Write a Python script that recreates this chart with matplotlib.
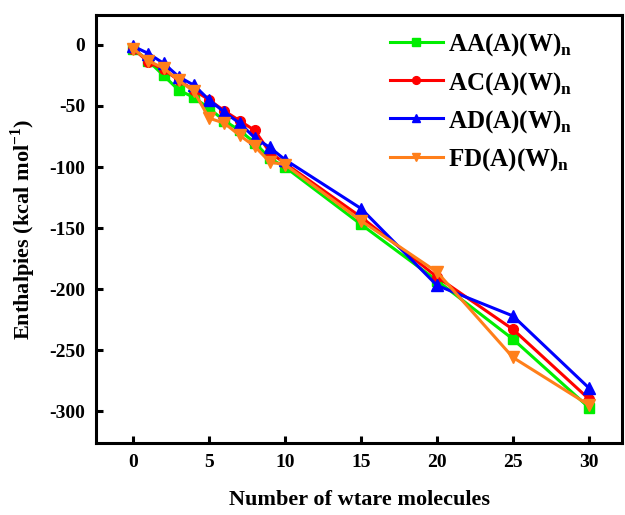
import matplotlib
matplotlib.use("Agg")
import matplotlib.pyplot as plt

plt.rcParams['font.family'] = 'Liberation Serif'
plt.rcParams['font.weight'] = 'bold'
plt.rcParams['mathtext.fontset'] = 'custom'
plt.rcParams['mathtext.rm'] = 'Liberation Serif:bold'
plt.rcParams['mathtext.bf'] = 'Liberation Serif:bold'
plt.rcParams['axes.unicode_minus'] = False

# number of water molecules
n_water = [0, 1, 2, 3, 4, 5, 6, 7, 8, 9, 10, 15, 20, 25, 30]

# enthalpies (kcal/mol)
aa = [-3, -13, -25, -37, -43, -52, -62, -70, -80, -93, -100, -147, -193, -241, -297]
ac = [-3, -14, -20, -29, -37, -45, -54, -62, -70, -88, -97, -141, -190, -233, -290]
ad = [-1, -7, -15, -26, -33, -45, -55, -64, -76, -84, -94, -134, -197, -222, -281]
fd = [-3, -13, -19, -29, -38, -60, -64, -74, -83, -96, -98, -144, -186, -256, -295]

labels = [r'AA(A)(W)$_\mathbf{n}$', r'AC(A)(W)$_\mathbf{n}$',
          r'AD(A)(W)$_\mathbf{n}$', r'FD(A)(W)$_\mathbf{n}$']

fig = plt.figure(figsize=(6.25, 5.15), dpi=100)
ax = fig.add_axes([0.154, 0.140, 0.841, 0.831])

ax.plot(n_water, aa, color='#00ee00', marker='s', ms=7, lw=2.2, label=labels[0])
ax.plot(n_water, ac, color='#ff0000', marker='o', ms=7, lw=2.2, label=labels[1])
ax.plot(n_water, ad, color='#0000ff', marker='^', ms=8, lw=2.2, label=labels[2])
ax.plot(n_water, fd, color='#ff7f1a', marker='v', ms=8, lw=2.2, label=labels[3])

ax.set_xlim(-2.43, 32.17)
ax.set_ylim(-326, 24.6)
ax.set_xticks([0, 5, 10, 15, 20, 25, 30])
ax.set_yticks([0, -50, -100, -150, -200, -250, -300])

for s in ax.spines.values():
    s.set_linewidth(2.2)
ax.tick_params(direction='in', length=5, width=2.2, labelsize=14, pad=8,
               top=False, right=False)
for lab in ax.get_xticklabels() + ax.get_yticklabels():
    lab.set_fontweight('bold')

ax.set_xlabel('Number of wtare molecules', fontsize=16, fontweight='bold', labelpad=14)
ax.set_ylabel(r'Enthalpies (kcal mol$^{\mathbf{-1}}$)', fontsize=16, fontweight='bold', labelpad=8)

ax.legend(loc='upper left', bbox_to_anchor=(0.559, 0.961), frameon=False,
          fontsize=18, handlelength=2.1, handletextpad=0.2, labelspacing=0.45,
          borderaxespad=0, borderpad=0, markerscale=0.8)

fig.savefig('out.png', dpi=100)
